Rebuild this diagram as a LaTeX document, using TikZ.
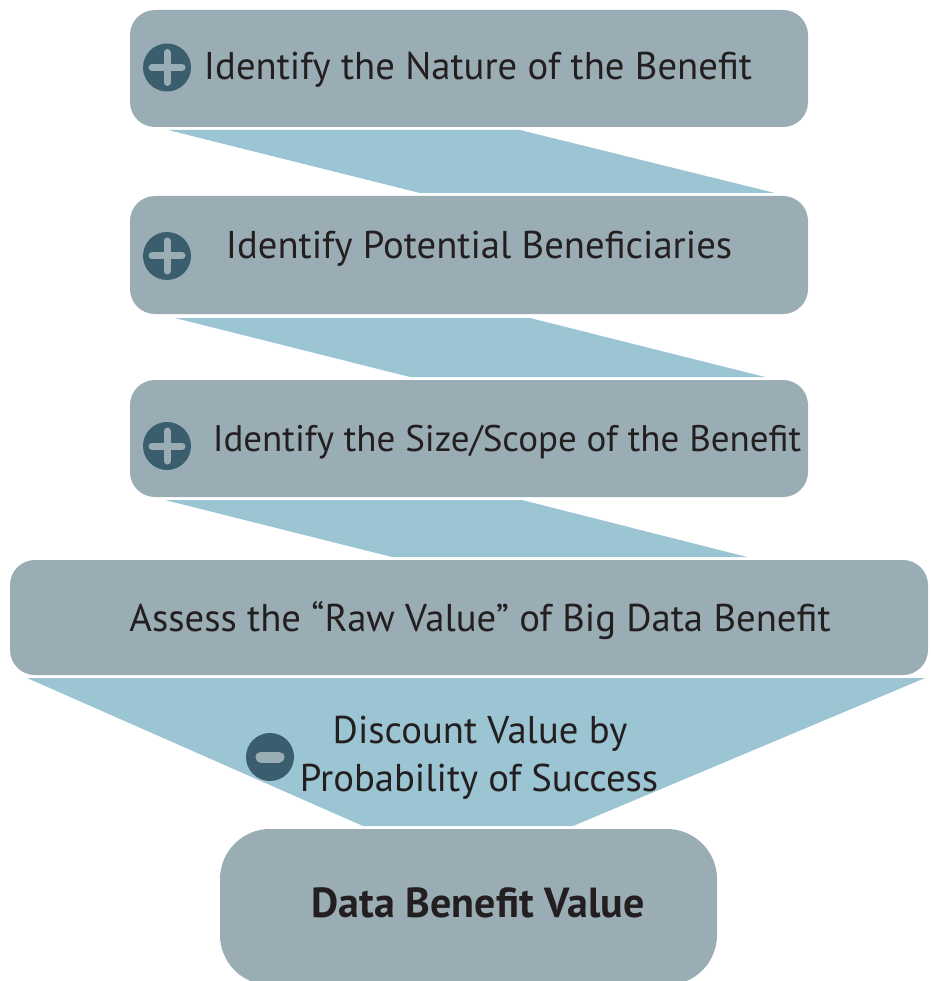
\documentclass[tikz,border=0pt]{standalone}
\usepackage{fontspec}
\setmainfont{PT Sans}

\definecolor{boxgray}{HTML}{9AADB5}
\definecolor{funnelblue}{HTML}{9BC5D3}
\definecolor{signdark}{HTML}{3A5E6E}
\definecolor{inktext}{HTML}{231F20}

\tikzset{
  stepbox/.style={fill=boxgray, rounded corners=25pt, inner sep=0pt},
  funnel/.style={fill=funnelblue},
  sign/.style={circle, fill=signdark, minimum size=48pt, inner sep=0pt},
  bar/.style={line width=7pt, line cap=round, draw=boxgray},
  label/.style={text=inktext, anchor=base, inner sep=0pt, font=\fontsize{38.7}{46}\selectfont}
}

\begin{document}
\begin{tikzpicture}[x=1pt,y=-1pt]
\useasboundingbox (0,0) rectangle (930,981);
\clip (0,0) rectangle (930,981);
%\draw[help lines, color=gray!30] (0,0) grid[step=50] (930,981);

% funnels between the steps
\fill[funnel] (168,130) -- (520,130) -- (775,193) -- (420,193) -- cycle;
\fill[funnel] (175,318) -- (530,318) -- (765,377) -- (410,377) -- cycle;
\fill[funnel] (165,500) -- (522,500) -- (747,557) -- (392,557) -- cycle;
\fill[funnel] (27,678) -- (925,678) -- (573,826) -- (363,826) -- cycle;

% steps
\node[stepbox, minimum width=678pt, minimum height=117pt] (nature) at (469,68.5) {};
\node[stepbox, minimum width=678pt, minimum height=118pt] (beneficiaries) at (469,255) {};
\node[stepbox, minimum width=678pt, minimum height=117pt] (scope) at (469,438.5) {};
\node[stepbox, minimum width=918pt, minimum height=115pt] (rawvalue) at (469,617.5) {};
\node[stepbox, rounded corners=50pt, minimum width=497pt, minimum height=156pt] (result) at (468.5,907) {};

% plus and minus signs
\node[sign] (plus1) at (167,67.5) {};
\node[sign] (plus2) at (167,256) {};
\node[sign] (plus3) at (167,446) {};
\foreach \s in {plus1,plus2,plus3}{
  \draw[bar] ([xshift=-15pt]\s.center) -- ([xshift=15pt]\s.center);
  \draw[bar] ([yshift=-15pt]\s.center) -- ([yshift=15pt]\s.center);
}
\node[sign] (minus) at (270,757) {};
\draw[bar, line width=11pt] ([xshift=-9pt]minus.center) -- ([xshift=9pt]minus.center);

% texts
\node[label] (t_nature) at (478,80) {Identify the Nature of the Benefit};
\node[label] (t_benef) at (479,259) {Identify Potential Beneficiaries};
\node[label, font=\fontsize{37}{44}\selectfont] (t_scope) at (507,451) {Identify the Size/Scope of the Benefit};
\node[label] (t_raw) at (480,631) {Assess the “Raw Value” of Big Data Benefit};
\node[label] (t_discount) at (480,743) {Discount Value by};
\node[label] (t_prob) at (479,791) {Probability of Success};
\node[label, font=\fontsize{42}{50}\selectfont\bfseries] (t_result) at (478,917) {Data Benefit Value};
\end{tikzpicture}
\end{document}
